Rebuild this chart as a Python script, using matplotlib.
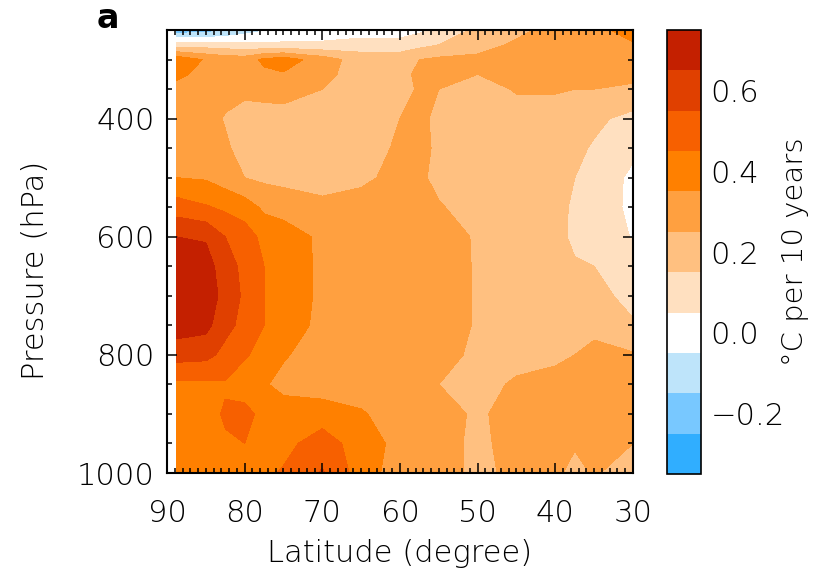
import numpy as np
import matplotlib
matplotlib.use('Agg')
import matplotlib.pyplot as plt
from matplotlib.ticker import MultipleLocator, FixedLocator

plt.rcParams['font.family'] = ['DejaVu Sans']
plt.rcParams['font.weight'] = 200

# grid of the trend field (latitude in degrees N, pressure in hPa)
lat = [88.75, 85, 82.5, 80, 77.5, 75, 70, 65, 60, 57.5, 55, 50, 45, 40, 37.5, 35, 30]
pres = [250, 275, 300, 325, 350, 400, 450, 500, 550, 600, 650, 700, 750, 800, 850, 900, 950, 1000]

# temperature trend, degC per 10 years, one row per pressure level
trend = [
    [-0.22, -0.20, -0.16, -0.10, -0.06, -0.03, -0.01, -0.01, -0.01, 0.03, 0.08, 0.17, 0.22, 0.29, 0.31, 0.32, 0.39],
    [0.10, 0.10, 0.09, 0.08, 0.07, 0.07, 0.07, 0.10, 0.10, 0.12, 0.15, 0.20, 0.27, 0.31, 0.32, 0.33, 0.34],
    [0.42, 0.34, 0.31, 0.30, 0.37, 0.40, 0.30, 0.20, 0.20, 0.25, 0.27, 0.28, 0.30, 0.30, 0.31, 0.32, 0.33],
    [0.37, 0.32, 0.30, 0.30, 0.33, 0.34, 0.28, 0.20, 0.22, 0.27, 0.27, 0.25, 0.29, 0.29, 0.29, 0.29, 0.28],
    [0.32, 0.30, 0.29, 0.28, 0.29, 0.30, 0.25, 0.20, 0.22, 0.26, 0.25, 0.20, 0.26, 0.26, 0.25, 0.25, 0.23],
    [0.32, 0.30, 0.24, 0.20, 0.20, 0.20, 0.20, 0.20, 0.25, 0.28, 0.22, 0.20, 0.20, 0.20, 0.19, 0.17, 0.12],
    [0.32, 0.31, 0.27, 0.20, 0.18, 0.18, 0.18, 0.19, 0.27, 0.28, 0.23, 0.20, 0.20, 0.19, 0.17, 0.14, 0.07],
    [0.35, 0.34, 0.30, 0.25, 0.23, 0.22, 0.20, 0.23, 0.28, 0.27, 0.22, 0.20, 0.20, 0.18, 0.15, 0.11, 0.03],
    [0.50, 0.46, 0.43, 0.40, 0.33, 0.31, 0.28, 0.29, 0.30, 0.30, 0.26, 0.20, 0.20, 0.17, 0.14, 0.10, 0.03],
    [0.65, 0.64, 0.55, 0.50, 0.42, 0.40, 0.33, 0.30, 0.30, 0.30, 0.29, 0.24, 0.20, 0.18, 0.13, 0.10, 0.045],
    [0.72, 0.69, 0.60, 0.52, 0.45, 0.41, 0.33, 0.30, 0.30, 0.30, 0.30, 0.24, 0.20, 0.20, 0.16, 0.15, 0.08],
    [0.73, 0.70, 0.62, 0.53, 0.45, 0.41, 0.33, 0.30, 0.30, 0.30, 0.30, 0.24, 0.20, 0.20, 0.20, 0.18, 0.12],
    [0.70, 0.68, 0.58, 0.52, 0.45, 0.41, 0.32, 0.30, 0.30, 0.30, 0.30, 0.24, 0.20, 0.20, 0.20, 0.20, 0.16],
    [0.59, 0.58, 0.52, 0.46, 0.42, 0.36, 0.30, 0.30, 0.30, 0.30, 0.30, 0.22, 0.20, 0.22, 0.25, 0.30, 0.26],
    [0.43, 0.43, 0.44, 0.40, 0.36, 0.32, 0.30, 0.30, 0.30, 0.28, 0.25, 0.20, 0.27, 0.30, 0.30, 0.30, 0.30],
    [0.42, 0.42, 0.46, 0.48, 0.42, 0.40, 0.40, 0.36, 0.30, 0.30, 0.30, 0.23, 0.30, 0.30, 0.30, 0.30, 0.30],
    [0.42, 0.42, 0.44, 0.45, 0.42, 0.42, 0.50, 0.40, 0.32, 0.30, 0.30, 0.22, 0.30, 0.28, 0.26, 0.28, 0.25],
    [0.42, 0.42, 0.42, 0.42, 0.43, 0.46, 0.56, 0.40, 0.30, 0.30, 0.30, 0.22, 0.28, 0.27, 0.22, 0.26, 0.20],
]

levels = [-0.35, -0.25, -0.15, -0.05, 0.05, 0.15, 0.25, 0.35, 0.45, 0.55, 0.65, 0.75]
colors = ['#30aeff', '#78c8ff', '#bee4fa', '#ffffff', '#ffe0c0', '#ffc080',
          '#ffa040', '#ff8000', '#f76000', '#e04000', '#c42000']
cbar_ticks = [-0.2, 0.0, 0.2, 0.4, 0.6]

fig = plt.figure(figsize=(8.13, 5.76), dpi=100)
ax = fig.add_axes([0.2054, 0.1788, 0.5732, 0.769])
cax = fig.add_axes([0.8204, 0.1771, 0.0418, 0.7708])

cf = ax.contourf(lat, pres, np.array(trend), levels=levels, colors=colors, antialiased=False)

ax.set_xlim(90, 30)
ax.set_ylim(1000, 250)
ax.xaxis.set_major_locator(FixedLocator([90, 80, 70, 60, 50, 40, 30]))
ax.xaxis.set_minor_locator(MultipleLocator(1))
ax.yaxis.set_major_locator(FixedLocator([400, 600, 800, 1000]))
ax.yaxis.set_minor_locator(MultipleLocator(50))
ax.tick_params(which='both', direction='in', top=True, right=True, width=1.1, labelsize=22)
ax.tick_params(which='major', length=7)
ax.tick_params(which='minor', length=3.5)
ax.tick_params(axis='x', pad=19)
ax.tick_params(axis='y', pad=9)
for s in ax.spines.values():
    s.set_linewidth(1.5)

cb = fig.colorbar(cf, cax=cax, ticks=cbar_ticks)
cb.ax.tick_params(length=0, labelsize=22, pad=7)
cb.ax.set_yticklabels(['\u22120.2', '0.0', '0.2', '0.4', '0.6'])
cb.outline.set_linewidth(1.2)

fig.text(35 / 813, 1 - 270 / 576, 'Pressure (hPa)', rotation=90, ha='center', va='center', fontsize=22)
fig.text(400 / 813, 1 - 553 / 576, 'Latitude (degree)', ha='center', va='center', fontsize=22)
fig.text(795 / 813, 1 - 252 / 576, '\u00b0C per 10 years', rotation=90, ha='center', va='center', fontsize=21)
fig.text(108 / 813, 1 - 19 / 576, 'a', ha='center', va='center', fontsize=24, fontweight='bold')

fig.savefig('out.png', dpi=100)
